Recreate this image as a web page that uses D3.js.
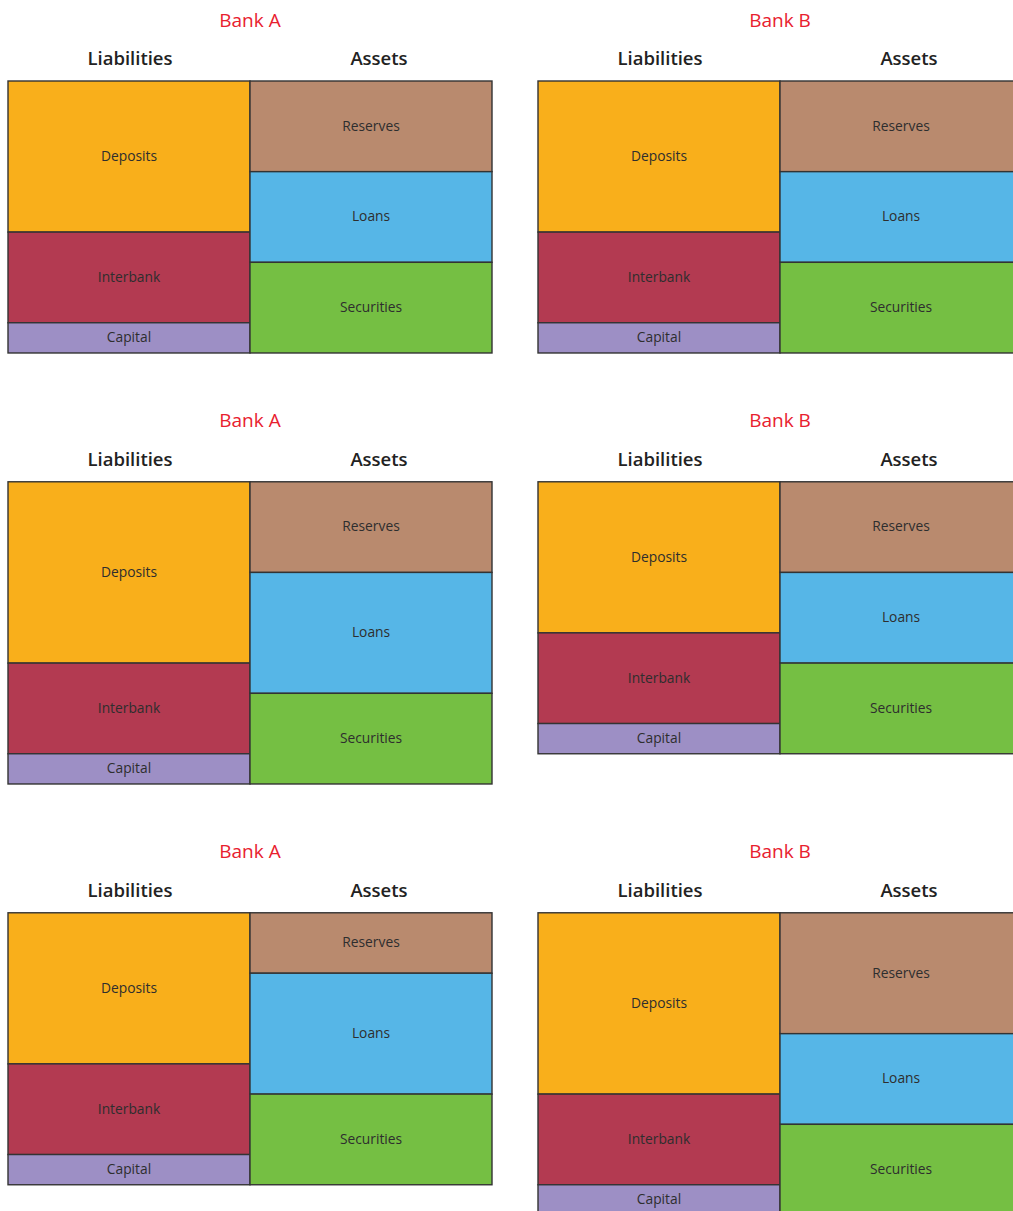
<!DOCTYPE html>
<html>
<head>
<meta charset="utf-8">
<script src="https://cdn.jsdelivr.net/npm/d3@7/dist/d3.min.js"></script>
<style>
  html, body { margin: 0; padding: 0; background: #fff; overflow: hidden; }
  svg { display: block; }
</style>
</head>
<body>
<svg id="chart" width="1013" height="1211"></svg>
<script>
// ---- Data ----
const banks = ["Bank A", "Bank B"];
const sides = ["Liabilities", "Assets"];
const liabilityItems = ["Deposits", "Interbank", "Capital"];
const assetItems = ["Reserves", "Loans", "Securities"];
// one entry per row (scenario), values in balance-sheet units
const liabilitiesA = [[5, 3, 1], [6, 3, 1], [5, 3, 1]];
const assetsA      = [[3, 3, 3], [3, 4, 3], [2, 4, 3]];
const liabilitiesB = [[5, 3, 1], [5, 3, 1], [6, 3, 1]];
const assetsB      = [[3, 3, 3], [3, 3, 3], [4, 3, 3]];

const colors = {
  Deposits: "#F9AF1B", Interbank: "#B33A51", Capital: "#9D8FC5",
  Reserves: "#B98A6E", Loans: "#56B6E7", Securities: "#75BF43"
};

// ---- Layout ----
const svg = d3.select("#chart");
const font = "'Open Sans', 'Noto Sans', sans-serif";
const unit = d3.scaleLinear().domain([0, 1]).range([0, 30.22]);
const bankX = d3.scaleOrdinal().domain(banks).range([8, 538]);
const sideX = d3.scaleBand().domain(sides).range([0, 484]);
const rowGap = 128.8;
const firstTop = 81;

const bankData = {
  "Bank A": { L: liabilitiesA, A: assetsA },
  "Bank B": { L: liabilitiesB, A: assetsB }
};

let rowTop = firstTop;
for (let r = 0; r < 3; r++) {
  let maxUnits = 0;
  banks.forEach(bank => {
    const g = svg.append("g").attr("transform", `translate(${bankX(bank)},${rowTop})`);
    const cols = [
      { side: "Liabilities", items: liabilityItems, vals: bankData[bank].L[r] },
      { side: "Assets", items: assetItems, vals: bankData[bank].A[r] }
    ];
    // titles
    g.append("text").attr("x", 242).attr("y", -54.5)
      .attr("text-anchor", "middle").attr("font-family", font).attr("font-weight", 500)
      .attr("font-size", 19).attr("fill", "#E8202E").text(bank);
    g.append("text").attr("x", sideX("Liabilities") + sideX.bandwidth() / 2 + 1).attr("y", -16)
      .attr("text-anchor", "middle").attr("font-family", font).attr("font-weight", 600)
      .attr("font-size", 18.5).attr("fill", "#222").text("Liabilities");
    g.append("text").attr("x", sideX("Assets") + sideX.bandwidth() / 2 + 8).attr("y", -16)
      .attr("text-anchor", "middle").attr("font-family", font).attr("font-weight", 600)
      .attr("font-size", 18.5).attr("fill", "#222").text("Assets");

    cols.forEach(col => {
      let acc = 0;
      const cells = col.items.map((name, i) => {
        const c = { name, y0: acc, v: col.vals[i] };
        acc += col.vals[i];
        return c;
      });
      maxUnits = Math.max(maxUnits, acc);
      const cg = g.append("g");
      cg.selectAll("rect").data(cells).join("rect")
        .attr("x", sideX(col.side))
        .attr("y", d => unit(d.y0))
        .attr("width", sideX.bandwidth())
        .attr("height", d => unit(d.v))
        .attr("fill", d => colors[d.name])
        .attr("stroke", "#333")
        .attr("stroke-width", 1.4);
      cg.selectAll("text").data(cells).join("text")
        .attr("x", sideX(col.side) + sideX.bandwidth() / 2)
        .attr("y", d => unit(d.y0 + d.v / 2) - 0.5)
        .attr("dy", "0.35em")
        .attr("text-anchor", "middle")
        .attr("font-family", font)
        .attr("font-size", 13.8)
        .attr("fill", "#2e2e2e")
        .text(d => d.name);
    });
  });
  rowTop += unit(maxUnits) + rowGap;
}
</script>
</body>
</html>
